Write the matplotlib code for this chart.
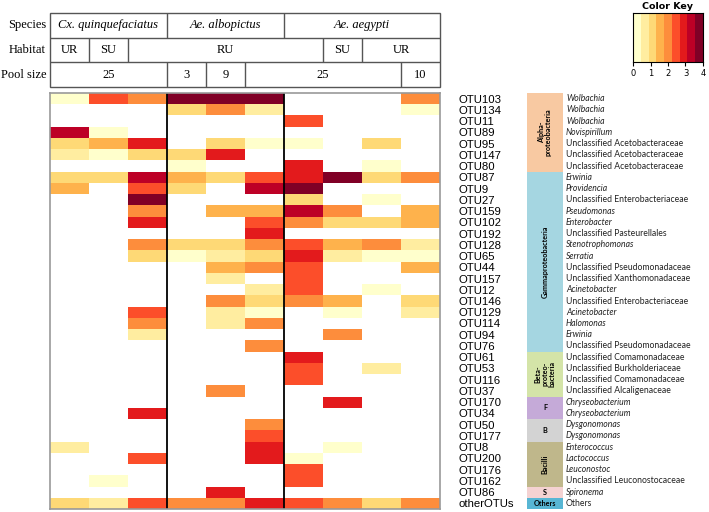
import numpy as np
import matplotlib
matplotlib.use("Agg")
import matplotlib.pyplot as plt
from matplotlib.colors import ListedColormap, BoundaryNorm
from matplotlib.patches import Rectangle

NA = None

# OTU rows, top to bottom
otus = ["OTU103", "OTU134", "OTU11", "OTU89", "OTU95", "OTU147", "OTU80",
        "OTU87", "OTU9", "OTU27", "OTU159", "OTU102", "OTU192", "OTU128",
        "OTU65", "OTU44", "OTU157", "OTU12", "OTU146", "OTU129", "OTU114",
        "OTU94", "OTU76", "OTU61", "OTU53", "OTU116", "OTU37", "OTU170",
        "OTU34", "OTU50", "OTU177", "OTU8", "OTU200", "OTU176", "OTU162",
        "OTU86", "otherOTUs"]

taxa = ["Wolbachia", "Wolbachia", "Wolbachia", "Novispirillum",
        "Unclassified Acetobacteraceae", "Unclassified Acetobacteraceae",
        "Unclassified Acetobacteraceae", "Erwinia", "Providencia",
        "Unclassified Enterobacteriaceae", "Pseudomonas", "Enterobacter",
        "Unclassified Pasteurellales", "Stenotrophomonas", "Serratia",
        "Unclassified Pseudomonadaceae", "Unclassified Xanthomonadaceae",
        "Acinetobacter", "Unclassified Enterobacteriaceae", "Acinetobacter",
        "Halomonas", "Erwinia", "Unclassified Pseudomonadaceae",
        "Unclassified Comamonadaceae", "Unclassified Burkholderiaceae",
        "Unclassified Comamonadaceae", "Unclassified Alcaligenaceae",
        "Chryseobacterium", "Chryseobacterium", "Dysgonomonas", "Dysgonomonas",
        "Enterococcus", "Lactococcus", "Leuconostoc",
        "Unclassified Leuconostocaceae", "Spironema", "Others"]

# taxonomic groups: (label, first row, number of rows, colour, rotate)
groups = [("Alpha-\nproteobacteria", 0, 7, "#f8c9a2", True),
          ("Gammaproteobacteria", 7, 16, "#a5d6e1", True),
          ("Beta-\nproteo-\nbacteria", 23, 4, "#d4e4a8", True),
          ("F", 27, 2, "#c5aad8", False),
          ("B", 29, 2, "#d3d3d3", False),
          ("Bacilli", 31, 4, "#bfb78b", True),
          ("S", 35, 1, "#f4d2d2", False),
          ("Others", 36, 1, "#58b6d4", False)]

# log abundance per sample column (None = not detected)
cx_ur = [0.2, NA, NA, 3.3, 1.1, 0.7, NA, 1.1, 1.6, NA,
         NA, NA, NA, NA, NA, NA, NA, NA, NA, NA,
         NA, NA, NA, NA, NA, NA, NA, NA, NA, NA,
         NA, 0.7, NA, NA, NA, NA, 1.1]
cx_su = [2.4, NA, NA, 0.2, 1.6, 0.2, NA, 1.1, NA, NA,
         NA, NA, NA, NA, NA, NA, NA, NA, NA, NA,
         NA, NA, NA, NA, NA, NA, NA, NA, NA, NA,
         NA, NA, NA, NA, 0.2, NA, 0.7]
cx_ru = [2.0, NA, NA, NA, 2.9, 1.1, NA, 3.3, 2.4, 3.8,
         2.0, 2.9, NA, 2.0, 1.1, NA, NA, NA, NA, 2.4,
         2.0, 0.7, NA, NA, NA, NA, NA, NA, 2.9, NA,
         NA, NA, 2.4, NA, NA, NA, 2.4]
albo_3 = [3.8, 1.1, NA, NA, NA, 1.1, 0.2, 1.6, 1.1, NA,
          NA, NA, NA, 1.1, 0.2, NA, NA, NA, NA, NA,
          NA, NA, NA, NA, NA, NA, NA, NA, NA, NA,
          NA, NA, NA, NA, NA, NA, 2.0]
albo_9 = [3.8, 2.0, NA, NA, 1.1, 2.9, NA, 1.1, NA, NA,
          1.6, NA, NA, 1.1, 0.7, 1.6, 0.7, NA, 2.0, 0.7,
          0.7, NA, NA, NA, NA, NA, 2.0, NA, NA, NA,
          NA, NA, NA, NA, NA, 2.9, 2.0]
albo_25 = [3.8, 0.7, NA, NA, 0.2, NA, NA, 2.4, 3.3, NA,
           1.6, 2.4, 2.9, 2.0, 1.1, 2.0, NA, 0.7, 1.1, 0.2,
           2.0, NA, 2.0, NA, NA, NA, NA, NA, NA, 2.0,
           2.4, 2.9, 2.9, NA, NA, NA, 2.9]
aeg_ru = [NA, NA, 2.4, NA, 0.2, NA, 2.9, 2.9, 3.8, 1.1,
          3.3, 2.0, NA, 2.4, 2.9, 2.4, 2.4, 2.4, 2.0, NA,
          NA, NA, NA, 2.9, 2.4, 2.4, NA, NA, NA, NA,
          NA, NA, 0.2, 2.4, 2.4, NA, 2.4]
aeg_su = [NA, NA, NA, NA, NA, NA, NA, 3.8, NA, NA,
          2.0, 1.1, NA, 1.6, 0.7, NA, NA, NA, 1.6, 0.2,
          NA, 2.0, NA, NA, NA, NA, NA, 2.9, NA, NA,
          NA, 0.2, NA, NA, NA, NA, 2.0]
aeg_ur25 = [NA, NA, NA, NA, 1.1, NA, 0.2, 1.1, NA, 0.2,
            NA, 1.1, NA, 2.0, 0.2, NA, NA, 0.2, NA, NA,
            NA, NA, NA, NA, 0.7, NA, NA, NA, NA, NA,
            NA, NA, NA, NA, NA, NA, 1.1]
aeg_ur10 = [2.0, 0.2, NA, NA, NA, NA, NA, 2.0, NA, NA,
            1.6, 1.6, NA, 0.7, 0.2, 1.6, NA, NA, 1.1, 0.7,
            NA, NA, NA, NA, NA, NA, NA, NA, NA, NA,
            NA, NA, NA, NA, NA, NA, 2.0]

# header table: (label, start col, end col)
species = [("Cx. quinquefaciatus", 0, 3), ("Ae. albopictus", 3, 6), ("Ae. aegypti", 6, 10)]
habitat = [("UR", 0, 1), ("SU", 1, 2), ("RU", 2, 7), ("SU", 7, 8), ("UR", 8, 10)]
pool_size = [("25", 0, 3), ("3", 3, 4), ("9", 4, 5), ("25", 5, 9), ("10", 9, 10)]

key_colors = ["#ffffcc", "#ffeda0", "#fed976", "#feb24c", "#fd8d3c",
              "#fc4e2a", "#e31a1c", "#bd0026", "#800026"]

W, H = 709, 512


def box(x0, y0, x1, y1):
    # pixel box (origin top left) -> figure rect
    return [x0 / W, 1 - y1 / H, (x1 - x0) / W, (y1 - y0) / H]


cols = [cx_ur, cx_su, cx_ru, albo_3, albo_9, albo_25, aeg_ru, aeg_su, aeg_ur25, aeg_ur10]
mat = np.array([[np.nan if v is None else v for v in c] for c in cols], dtype=float).T
mat = np.ma.masked_invalid(mat)

cmap = ListedColormap(key_colors)
norm = BoundaryNorm(np.linspace(0, 4, 10), cmap.N)

fig = plt.figure(figsize=(W / 100, H / 100), dpi=100)
serif = "Liberation Serif"

# ---- heatmap
ax = fig.add_axes(box(50, 93, 440, 509))
ax.pcolormesh(np.arange(11), np.arange(len(otus) + 1), mat, cmap=cmap, norm=norm)
ax.set_xlim(0, 10)
ax.set_ylim(len(otus), 0)
ax.vlines([3, 6], 0, len(otus), color="black", lw=1.3)
for s in ax.spines.values():
    s.set_color("#999999")
    s.set_linewidth(1.2)
ax.set_xticks([])
ax.set_yticks(np.arange(len(otus)) + 0.5)
ax.set_yticklabels(otus, family="Liberation Sans", fontsize=8.2)
ax.yaxis.tick_right()
ax.tick_params(axis="y", length=0, pad=13)

# ---- header table
tab = fig.add_axes(box(50, 13, 440, 87))
tab.set_xlim(0, 10)
tab.set_ylim(3, 0)
tab.axis("off")
lc = "#555555"
tab.add_patch(Rectangle((0, 0), 10, 3, fill=False, ec=lc, lw=1.0, clip_on=False))
tab.hlines([1, 2], 0, 10, color=lc, lw=1.0)
for r, (row, italic) in enumerate([(species, True), (habitat, False), (pool_size, False)]):
    for label, a, b in row:
        if a > 0:
            tab.vlines(a, r, r + 1, color=lc, lw=1.0)
        tab.text((a + b) / 2, r + 0.5, label, ha="center", va="center",
                 family=serif, fontsize=9, style="italic" if italic else "normal")
for r, name in enumerate(["Species", "Habitat", "Pool size"]):
    tab.text(-0.1, r + 0.5, name, ha="right", va="center", family=serif, fontsize=9)

# ---- taxonomy panel
tx = fig.add_axes(box(527, 93, 709, 509))
tx.set_xlim(0, 182)
tx.set_ylim(len(otus), 0)
tx.axis("off")
for label, start, n, color, rot in groups:
    tx.add_patch(Rectangle((0, start), 36, n, fc=color, ec="none"))
    tx.text(18, start + n / 2, label, ha="center", va="center", fontsize=5.2,
            fontweight="bold", rotation=90 if rot else 0, family="Lato",
            linespacing=0.95)
for i, name in enumerate(taxa):
    plain = name.startswith("Unclassified") or name == "Others"
    tx.text(39, i + 0.5, name, ha="left", va="center", fontsize=6.2, family="Lato",
            style="normal" if plain else "italic", color="#222222")

# ---- colour key
ck = fig.add_axes(box(633, 13, 703, 62))
ck.pcolormesh(np.linspace(0, 4, 10), [0, 1], [np.linspace(0, 4, 10)[:-1] + 0.2],
              cmap=cmap, norm=norm)
ck.set_xlim(0, 4)
ck.set_ylim(0, 1)
ck.set_yticks([])
ck.set_xticks([0, 1, 2, 3, 4])
ck.tick_params(axis="x", labelsize=6, length=3, pad=2)
ck.set_title("Color Key", fontsize=6.8, fontweight="bold", pad=3)

fig.savefig("out.png", dpi=100)
